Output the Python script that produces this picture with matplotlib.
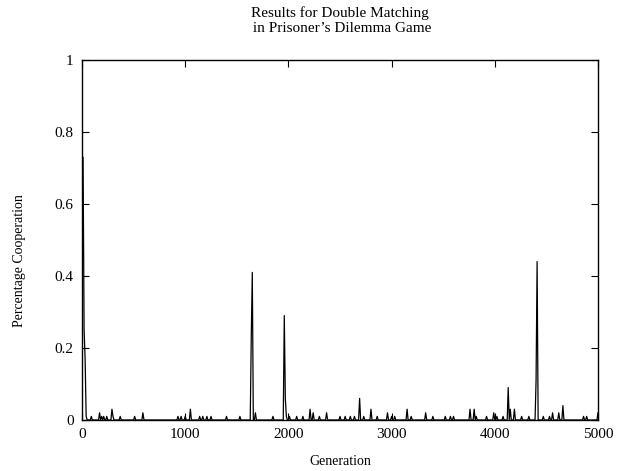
import numpy as np
import matplotlib
matplotlib.use("Agg")
import matplotlib.pyplot as plt

plt.rcParams["font.family"] = ["Liberation Serif", "DejaVu Serif"]

# generations where cooperation rose above zero, and the level reached
spike_gens = [0, 10, 20, 30, 40, 90, 170, 190, 210, 240, 290, 300, 370, 510, 590,
              930, 960, 1000, 1050, 1140, 1170, 1210, 1250, 1400, 1530,
              1640, 1650, 1680, 1850, 1960, 1970, 1980, 2010, 2080, 2140,
              2210, 2240, 2300, 2370, 2500, 2550, 2600, 2640, 2690, 2730,
              2800, 2860, 2960, 3000, 3030, 3150, 3190, 3330, 3400, 3520,
              3570, 3600, 3760, 3800, 3820, 3920, 3990, 4020, 4080, 4130,
              4150, 4190, 4260, 4330, 4400, 4410, 4470, 4530, 4560, 4620,
              4660, 4860, 4890, 5000]
spike_vals = [0.5, 0.73, 0.25, 0.17, 0.01, 0.01, 0.02, 0.01, 0.01, 0.01, 0.03,
              0.01, 0.01, 0.01, 0.02,
              0.01, 0.01, 0.01, 0.03, 0.01, 0.01, 0.01, 0.01, 0.01, 0.01,
              0.23, 0.41, 0.02, 0.01, 0.29, 0.06, 0.01, 0.01, 0.01, 0.01,
              0.03, 0.02, 0.01, 0.02, 0.01, 0.01, 0.01, 0.01, 0.06, 0.01,
              0.03, 0.01, 0.02, 0.01, 0.01, 0.03, 0.01, 0.02, 0.01, 0.01,
              0.01, 0.01, 0.03, 0.03, 0.01, 0.01, 0.02, 0.01, 0.01, 0.09,
              0.03, 0.03, 0.01, 0.01, 0.11, 0.44, 0.01, 0.01, 0.02, 0.02,
              0.04, 0.01, 0.01, 0.02]

generation = np.arange(0, 5001, 10)
coop = np.zeros(len(generation))
for g, v in zip(spike_gens, spike_vals):
    coop[g // 10] = v

fig = plt.figure(figsize=(6.2, 4.71), dpi=100)
ax = fig.add_axes([0.1323, 0.1083, 0.8322, 0.7643])
ax.plot(generation, coop, color="black", linewidth=0.9)

ax.set_xlim(0, 5000)
ax.set_ylim(0, 1)
ax.set_xticks([0, 1000, 2000, 3000, 4000, 5000])
ax.set_yticks([0, 0.2, 0.4, 0.6, 0.8, 1])
ax.set_yticklabels(["0", "0.2", "0.4", "0.6", "0.8", "1"])
ax.tick_params(direction="in", top=True, right=True, length=5, width=0.8,
               labelsize=11, pad=6)
for s in ax.spines.values():
    s.set_linewidth(1.0)

ax.set_xlabel("Generation", fontsize=10)
ax.xaxis.set_label_coords(0.5, -0.097)
ax.set_ylabel("Percentage Cooperation", fontsize=10)
ax.yaxis.set_label_coords(-0.108, 0.442)
ax.set_title("Results for Double Matching\n in Prisoner\u2019s Dilemma Game",
             fontsize=11, pad=20, linespacing=1.25)

fig.savefig("out.png", dpi=100)
